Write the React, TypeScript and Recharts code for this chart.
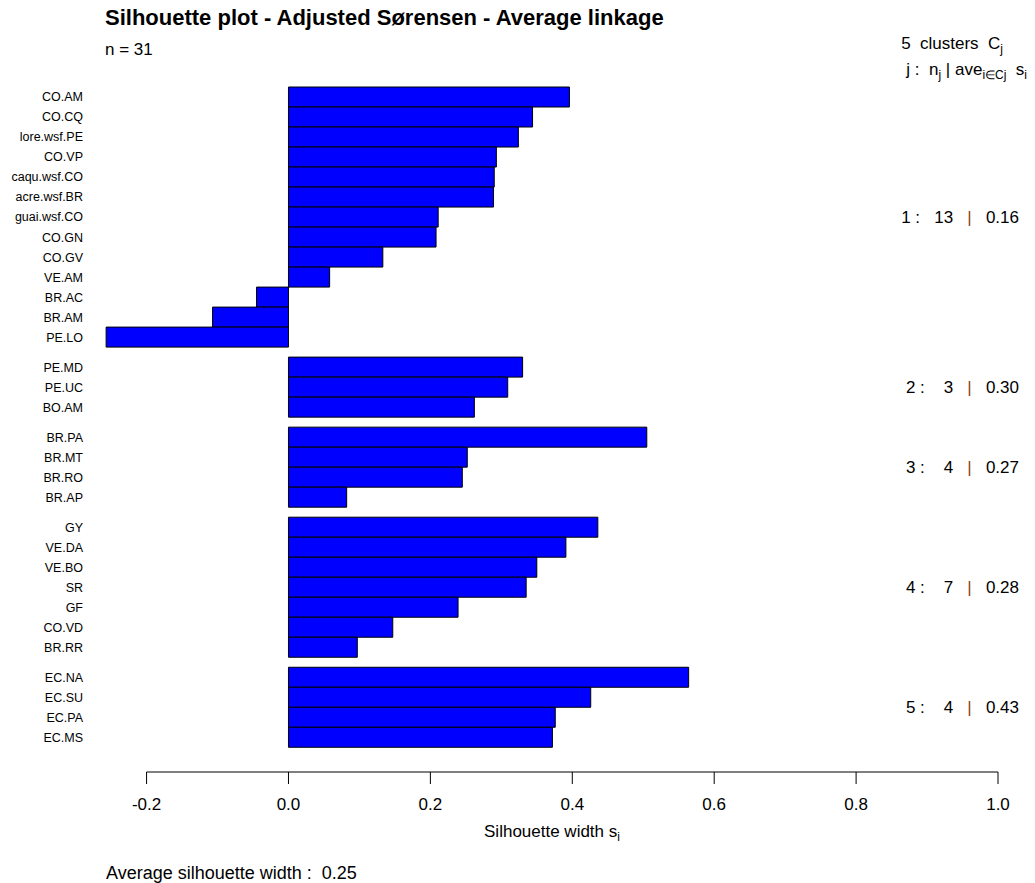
import React from "react";
import { BarChart, Bar, XAxis, YAxis, ReferenceLine } from "recharts";

const FONT = "'Liberation Sans', Arial, Helvetica, sans-serif";

// silhouette widths, ordered as in the plot (cluster by cluster, decreasing)
const siteNames = [
  "CO.AM", "CO.CQ", "lore.wsf.PE", "CO.VP", "caqu.wsf.CO", "acre.wsf.BR", "guai.wsf.CO",
  "CO.GN", "CO.GV", "VE.AM", "BR.AC", "BR.AM", "PE.LO",
  "PE.MD", "PE.UC", "BO.AM",
  "BR.PA", "BR.MT", "BR.RO", "BR.AP",
  "GY", "VE.DA", "VE.BO", "SR", "GF", "CO.VD", "BR.RR",
  "EC.NA", "EC.SU", "EC.PA", "EC.MS",
];
const silWidths = [
  0.396, 0.344, 0.324, 0.293, 0.290, 0.289, 0.211, 0.208, 0.133, 0.058, -0.045, -0.107, -0.257,
  0.330, 0.309, 0.262,
  0.505, 0.252, 0.245, 0.082,
  0.436, 0.391, 0.350, 0.335, 0.239, 0.147, 0.097,
  0.564, 0.426, 0.376, 0.372,
];
const clusterSizes = [13, 3, 4, 7, 4];
const clusterAvg = ["0.16", "0.30", "0.27", "0.28", "0.43"];
const xTicks = [-0.2, 0, 0.2, 0.4, 0.6, 0.8, 1.0];

// half a bar of space between clusters, like R's barplot(space=...)
const rows: { name: string; width: number; pos: number }[] = [];
const clusterCenters: number[] = [];
{
  let k = 0;
  clusterSizes.forEach((n, c) => {
    const first = k + 0.5 * c;
    for (let i = 0; i < n; i++) {
      rows.push({ name: siteNames[k], width: silWidths[k], pos: k + 0.5 * c });
      k++;
    }
    clusterCenters.push(first + (n - 1) / 2);
  });
}
const nameByPos = new Map(rows.map((r) => [r.pos, r.name]));
const Y_MIN = -1;
const Y_MAX = 33.735;

function ClusterLabel(props: any) {
  const { viewBox, idx } = props;
  if (!viewBox) return null;
  const right = viewBox.x + viewBox.width + 21;
  const n = String(clusterSizes[idx]).padStart(2, " ");
  return (
    <text
      x={right}
      y={viewBox.y}
      dy="0.35em"
      textAnchor="end"
      fontSize={17}
      fill="#000"
      style={{ whiteSpace: "pre", fontFamily: FONT }}
    >
      {`${idx + 1} :   ${n}   `}
      <tspan fill="#8B4513">|</tspan>
      {`   ${clusterAvg[idx]}`}
    </text>
  );
}

const abs = (left: number, top: number, extra: React.CSSProperties = {}): React.CSSProperties => ({
  position: "absolute",
  left,
  top,
  fontFamily: FONT,
  fontSize: 17,
  lineHeight: "20px",
  color: "#000",
  whiteSpace: "pre",
  ...extra,
});

export default function App() {
  return (
    <div style={{ position: "absolute", left: 0, top: 0, width: 1035, height: 883, background: "#fff", fontFamily: FONT }}>
      <BarChart
        width={1035}
        height={883}
        layout="vertical"
        data={rows}
        margin={{ top: 77, right: 37, bottom: 71, left: 0 }}
      >
        <XAxis
          type="number"
          dataKey="width"
          domain={[-0.26, 1.0]}
          allowDataOverflow
          ticks={xTicks}
          interval={0}
          tickFormatter={(v: number) => v.toFixed(1)}
          axisLine={false}
          tickLine={{ stroke: "#000" }}
          tickSize={12}
          tickMargin={14}
          height={40}
          tick={{ fill: "#000", fontSize: 17, fontFamily: FONT }}
        />
        <YAxis
          type="number"
          dataKey="pos"
          domain={[Y_MIN, Y_MAX]}
          allowDataOverflow
          ticks={rows.map((r) => r.pos)}
          interval={0}
          tickFormatter={(v: number) => nameByPos.get(v) ?? ""}
          axisLine={false}
          tickLine={false}
          tickSize={0}
          tickMargin={21}
          width={104}
          tick={{ fill: "#000", fontSize: 12.5, fontFamily: FONT }}
        />
        <ReferenceLine
          segment={[{ x: -0.2, y: Y_MAX }, { x: 1.0, y: Y_MAX }]}
          stroke="#000"
          ifOverflow="visible"
        />
        {clusterCenters.map((c, i) => (
          <ReferenceLine
            key={i}
            y={c}
            stroke="none"
            ifOverflow="visible"
            label={<ClusterLabel idx={i} />}
          />
        ))}
        <Bar dataKey="width" fill="#0000FF" stroke="#000" strokeWidth={1} barSize={20} isAnimationActive={false} />
      </BarChart>

      <div style={abs(105, 5, { fontSize: 22, lineHeight: "26px", fontWeight: "bold" })}>
        Silhouette plot - Adjusted Sørensen - Average linkage
      </div>
      <div style={abs(105, 40)}>n = 31</div>
      <div style={abs(0, 34, { width: 1003, textAlign: "right" })}>
        {"5  clusters  C"}
        <sub style={{ fontSize: 12 }}>j</sub>
      </div>
      <div style={abs(0, 60, { width: 1027, textAlign: "right" })}>
        {"j :  n"}
        <sub style={{ fontSize: 12 }}>j</sub>
        {" | ave"}
        <sub style={{ fontSize: 12 }}>i∈Cj</sub>
        {"  s"}
        <sub style={{ fontSize: 12 }}>i</sub>
      </div>
      <div style={abs(0, 822, { width: 1104, textAlign: "center" })}>
        {"Silhouette width s"}
        <sub style={{ fontSize: 12 }}>i</sub>
      </div>
      <div style={abs(106, 862, { fontSize: 18, lineHeight: "22px" })}>Average silhouette width :  0.25</div>
    </div>
  );
}
